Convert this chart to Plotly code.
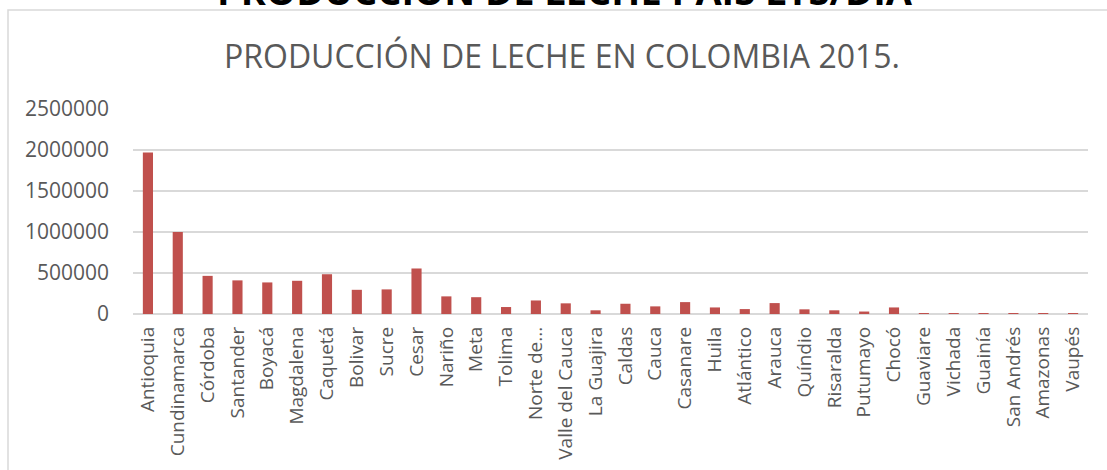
import plotly.graph_objects as go

departamentos = ["Antioquia", "Cundinamarca", "Córdoba", "Santander", "Boyacá", "Magdalena",
                 "Caquetá", "Bolivar", "Sucre", "Cesar", "Nariño", "Meta", "Tolima",
                 "Norte de...", "Valle del Cauca", "La Guajira", "Caldas", "Cauca", "Casanare",
                 "Huila", "Atlántico", "Arauca", "Quíndio", "Risaralda", "Putumayo", "Chocó",
                 "Guaviare", "Vichada", "Guainía", "San Andrés", "Amazonas", "Vaupés"]
litros_dia = [1970000, 1000000, 465000, 410000, 385000, 405000,
              485000, 295000, 300000, 555000, 215000, 205000, 85000,
              165000, 130000, 45000, 125000, 93000, 145000,
              80000, 60000, 133000, 57000, 45000, 30000, 80000,
              10000, 2000, 500, 1000, 1000, 500]
y_ticks = [0, 500000, 1000000, 1500000, 2000000, 2500000]

FONT = "Open Sans"
GRAY = "#595959"
GRID = "#D9D9D9"

W, H = 1107, 470
L, R, T, B = 133, 19, 109, 156
pw, ph = W - L - R, H - T - B

def px(x):
    return (x - L) / pw

def py(y):
    return (H - B - y) / ph

fig = go.Figure()
fig.add_trace(go.Bar(x=departamentos, y=litros_dia, marker_color="#C0504D",
                     marker_line_width=0))

fig.update_layout(
    width=W, height=H,
    margin=dict(l=L, r=R, t=T, b=B, autoexpand=False),
    paper_bgcolor="white", plot_bgcolor="white",
    bargap=0.66,
    showlegend=False,
    font=dict(family=FONT, color=GRAY),
    title=dict(text="PRODUCCIÓN DE LECHE EN COLOMBIA 2015.",
               font=dict(family=FONT, size=32, color=GRAY),
               x=562 / W, xref="container", xanchor="center",
               y=1 - 57 / H, yref="container", yanchor="middle"),
    xaxis=dict(type="category", tickangle=-90, tickfont=dict(size=19, color=GRAY),
               showgrid=False, showline=False, ticks="", ticklabelstandoff=8),
    yaxis=dict(range=[0, 2500000], tickvals=y_ticks, tickformat="d",
               tickfont=dict(size=21, color=GRAY), showgrid=True, gridcolor=GRID,
               gridwidth=1.5, zeroline=True, zerolinecolor=GRID, zerolinewidth=1.5,
               showline=False, ticks="", ticklabelstandoff=23),
)

fig.add_shape(type="rect", xref="paper", yref="paper",
              x0=px(8), x1=px(1120), y0=py(480), y1=py(10),
              line=dict(color=GRID, width=1.5), fillcolor="rgba(0,0,0,0)", layer="below")

fig.add_annotation(text="<b>PRODUCCIÓN DE LECHE PAÍS LTS/DÍA</b>",
                   xref="paper", yref="paper", x=px(565), y=py(-10),
                   xanchor="center", yanchor="middle", showarrow=False,
                   font=dict(family=FONT, size=38, color="black"))

fig.write_html("out.html", config={"displayModeBar": False},
               post_script="document.body.style.margin='0';document.body.style.overflow='hidden';")
